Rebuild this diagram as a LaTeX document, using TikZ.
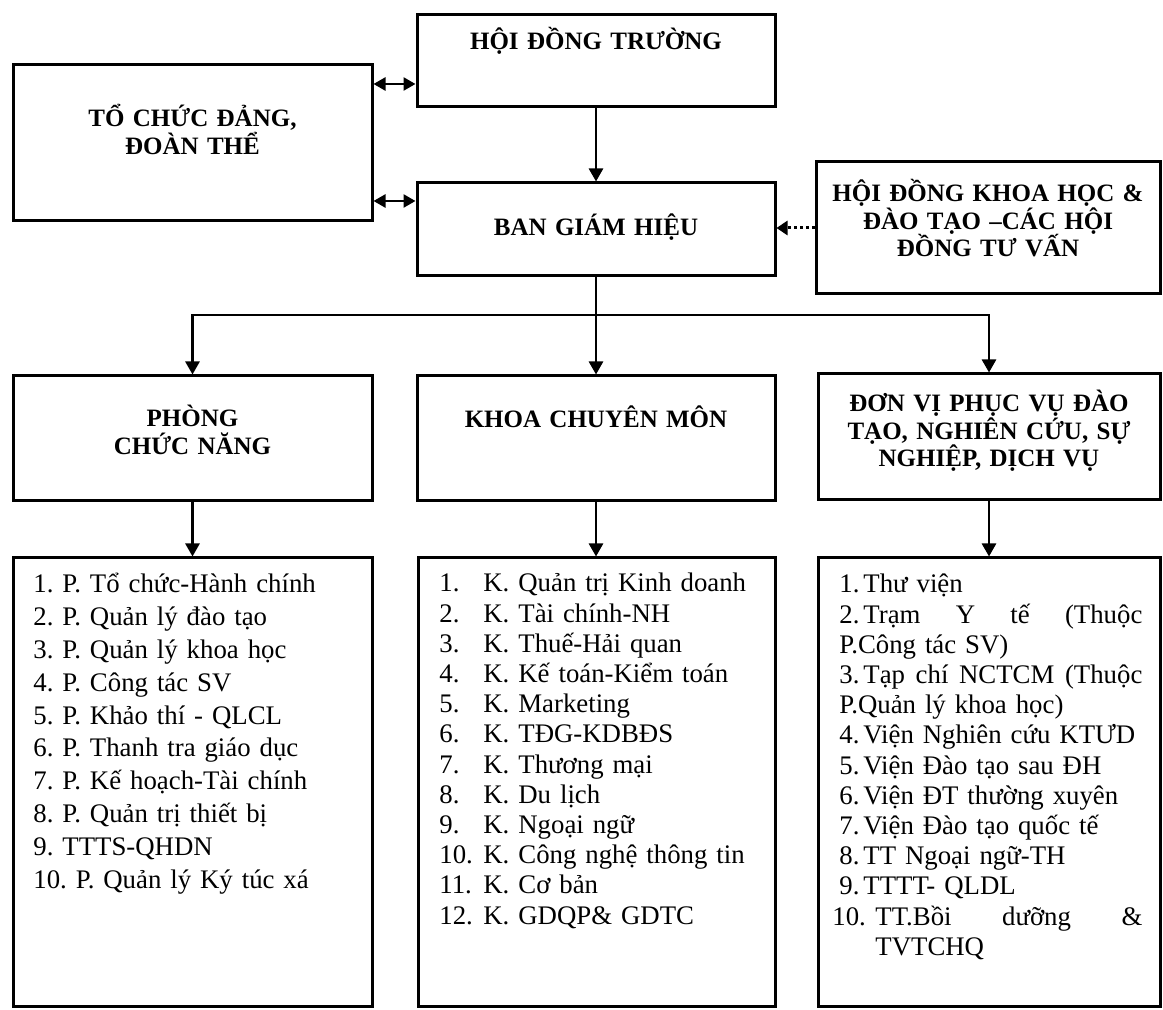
\documentclass[tikz,border=0pt]{standalone}
\usepackage{fontspec}
\setmainfont{Liberation Serif}
\usetikzlibrary{arrows.meta}
\newcommand{\so}[2]{\makebox[#1][l]{#2}}
\newcommand{\dsfont}[1]{\fontsize{13.4}{#1}\selectfont\frenchspacing\setlength{\lineskiplimit}{-20pt}}
\tikzset{
  box/.style={draw, line width=1.5pt, inner sep=0pt},
  ttl/.style={font=\bfseries\fontsize{12.5}{13.75}\selectfont, align=center,
    text width=165pt, anchor=base, inner sep=0pt},
  lst/.style={align=left, anchor=base west, inner sep=0pt, text width=172pt},
  arr/.style={line width=1.3pt, -{Triangle[length=6.5pt,width=7pt]}},
  dbl/.style={line width=1.3pt, {Triangle[length=6pt,width=6.5pt]}-{Triangle[length=6pt,width=6.5pt]}},
  dotarr/.style={line width=1.5pt, dash pattern=on 1.5pt off 1.5pt, -{Triangle[length=5.5pt,width=7pt]}}
}

\begin{document}
\begin{tikzpicture}[x=0.5pt, y=-0.5pt]
  \useasboundingbox (0,0) rectangle (1163,1010);
  % khung
  \node[box, minimum width=179pt, minimum height=46pt] (hdt) at (596,61) {};
  \node[box, minimum width=179.5pt, minimum height=78pt] (tcd) at (192.5,143) {};
  \node[box, minimum width=179pt, minimum height=46.5pt] (bgh) at (596,229.5) {};
  \node[box, minimum width=172pt, minimum height=66pt] (hdkh) at (988,228) {};
  \node[box, minimum width=179.5pt, minimum height=62.5pt] (pcn) at (192.5,438.5) {};
  \node[box, minimum width=179pt, minimum height=62.5pt] (kcm) at (596,438.5) {};
  \node[box, minimum width=171pt, minimum height=63pt] (dv) at (989,437) {};
  \node[box, minimum width=179.5pt, minimum height=224pt] (ds1) at (192.5,782) {};
  \node[box, minimum width=178.5pt, minimum height=224pt] (ds2) at (596.5,782) {};
  \node[box, minimum width=171pt, minimum height=224pt] (ds3) at (989,782) {};

  % tieu de
  \node[ttl] (hdt-t) at (596,50) {HỘI ĐỒNG TRƯỜNG};
  \node[ttl] (tcd-t) at (192.5,127) {TỔ CHỨC ĐẢNG,\\ĐOÀN THỂ};
  \node[ttl] (bgh-t) at (596,236) {BAN GIÁM HIỆU};
  \node[ttl] (hdkh-t) at (988,202) {HỘI ĐỒNG KHOA HỌC \&\\ĐÀO TẠO –CÁC HỘI\\ĐỒNG TƯ VẤN};
  \node[ttl] (pcn-t) at (192.5,427) {PHÒNG\\CHỨC NĂNG};
  \node[ttl] (kcm-t) at (596,428) {KHOA CHUYÊN MÔN};
  \node[ttl] (dv-t) at (989,412) {ĐƠN VỊ PHỤC VỤ ĐÀO\\TẠO, NGHIÊN CỨU, SỰ\\NGHIỆP, DỊCH VỤ};

  % danh sach
  \node[lst, font={\dsfont{16.4}}] (ds1-t) at (33,593) {%
    1. P. Tổ chức-Hành chính\\
    2. P. Quản lý đào tạo\\
    3. P. Quản lý khoa học\\
    4. P. Công tác SV\\
    5. P. Khảo thí - QLCL\\
    6. P. Thanh tra giáo dục\\
    7. P. Kế hoạch-Tài chính\\
    8. P. Quản trị thiết bị\\
    9. TTTS-QHDN\\
    10. P. Quản lý Ký túc xá};
  \node[lst, font={\dsfont{15.1}}] (ds2-t) at (439,592) {%
    \so{22pt}{1.}K. Quản trị Kinh doanh\\
    \so{22pt}{2.}K. Tài chính-NH\\
    \so{22pt}{3.}K. Thuế-Hải quan\\
    \so{22pt}{4.}K. Kế toán-Kiểm toán\\
    \so{22pt}{5.}K. Marketing\\
    \so{22pt}{6.}K. TĐG-KDBĐS\\
    \so{22pt}{7.}K. Thương mại\\
    \so{22pt}{8.}K. Du lịch\\
    \so{22pt}{9.}K. Ngoại ngữ\\
    \so{22pt}{10.}K. Công nghệ thông tin\\
    \so{22pt}{11.}K. Cơ bản\\
    \so{22pt}{12.}K. GDQP\& GDTC};
  \node[lst, font={\dsfont{15.1}}] (ds3-t) at (839,593) {%
    \so{12pt}{1.}Thư viện\\
    \so{12pt}{2.}\hbox to 139.5pt{Trạm\hfill Y\hfill tế\hfill (Thuộc}\\
    P.Công tác SV)\\
    \so{12pt}{3.}\hbox to 139.5pt{Tạp\hfill chí\hfill NCTCM\hfill (Thuộc}\\
    P.Quản lý khoa học)\\
    \so{12pt}{4.}Viện Nghiên cứu KTƯD\\
    \so{12pt}{5.}Viện Đào tạo sau ĐH\\
    \so{12pt}{6.}Viện ĐT thường xuyên\\
    \so{12pt}{7.}Viện Đào tạo quốc tế\\
    \so{12pt}{8.}TT Ngoại ngữ-TH\\
    \so{12pt}{9.}TTTT- QLDL\\
    \hspace*{-3.5pt}\so{21.5pt}{10.}\hbox to 133.5pt{TT.Bồi\hfill dưỡng\hfill \&}\\
    \hspace*{18pt}TVTCHQ};

  % mui ten
  \draw[dbl] (tcd.east |- 0,84) -- (hdt.west |- 0,84);
  \draw[dbl] (tcd.east |- 0,201) -- (bgh.west |- 0,201);
  \draw[arr] (hdt) -- (bgh);
  \draw[dotarr] (hdkh.west) -- (hdkh.west -| bgh.east);
  \coordinate (bus) at (bgh.south |- 0,315);
  \draw[line width=1.3pt] (bgh.south) -- (bus);
  \draw[arr] (bus) -| (pcn.north);
  \draw[arr] (bus) -- (kcm.north);
  \draw[arr] (bus) -| (dv.north);
  \draw[arr] (pcn) -- (ds1);
  \draw[arr] (kcm.south) -- (kcm.south |- ds2.north);
  \draw[arr] (dv) -- (ds3);
\end{tikzpicture}
\end{document}
